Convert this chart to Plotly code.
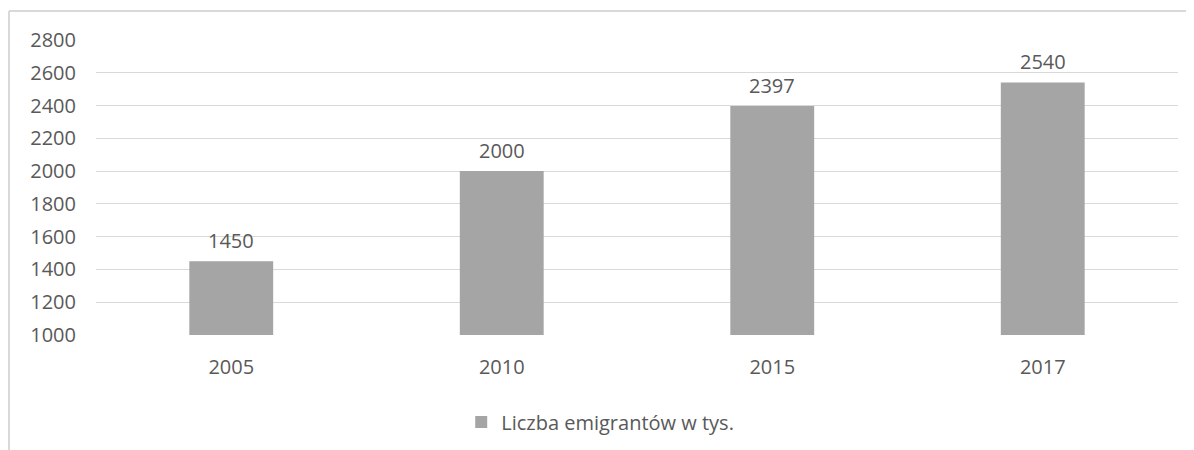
import plotly.graph_objects as go

years = ["2005", "2010", "2015", "2017"]
emigrants = [1450, 2000, 2397, 2540]
series_name = "Liczba emigrantów w tys."

text_color = "#595959"
bar_color = "#A5A5A5"
grid_color = "#D9D9D9"
font_family = "Open Sans, Noto Sans, sans-serif"

# the page puts the figure 8px in from the top-left corner
L, T, R, B = 88, 32, 24, 123
plot_w = 1194 - L - R
plot_h = 450 - T - B

fig = go.Figure()
fig.add_trace(go.Bar(
    x=years,
    y=emigrants,
    name=series_name,
    marker=dict(color=bar_color, line=dict(width=0)),
    width=0.31,
    showlegend=True,
))

# value labels sit a bit higher above the bars than plotly's "outside" text
# (category index used for x, year strings would be read as numbers)
for i, v in enumerate(emigrants):
    fig.add_annotation(
        x=i, y=v, text=str(v), showarrow=False,
        yanchor="middle", yshift=21,
        font=dict(size=20, color=text_color, family=font_family),
    )

fig.update_layout(
    width=1194,
    height=450,
    margin=dict(l=L, r=R, t=T, b=B),
    plot_bgcolor="white",
    paper_bgcolor="white",
    font=dict(family=font_family, size=20, color=text_color),
    showlegend=True,
    legend=dict(
        orientation="h",
        x=0.466, xanchor="center",
        y=-(422 - 335) / plot_h, yanchor="middle",
        font=dict(size=20, color=text_color),
        itemwidth=30,
    ),
    xaxis=dict(
        type="category",
        range=[-0.5, len(years) - 0.5],
        showgrid=False,
        showline=False,
        ticks="",
        ticklabelstandoff=18,
    ),
    yaxis=dict(
        range=[1000, 2800],
        dtick=200,
        showgrid=True,
        gridcolor=grid_color,
        gridwidth=1,
        zeroline=False,
        showline=False,
        ticks="",
        ticklabelstandoff=19,
    ),
    shapes=[
        # chart frame, cut off at the right and bottom
        dict(type="line", xref="paper", yref="paper",
             x0=(1 - L) / plot_w, x1=1.2,
             y0=(T + plot_h - 3) / plot_h, y1=(T + plot_h - 3) / plot_h,
             line=dict(color=grid_color, width=2)),
        dict(type="line", xref="paper", yref="paper",
             x0=(1 - L) / plot_w, x1=(1 - L) / plot_w,
             y0=(T + plot_h - 3) / plot_h, y1=-0.6,
             line=dict(color=grid_color, width=2)),
    ],
)

fig.write_html("out.html")
